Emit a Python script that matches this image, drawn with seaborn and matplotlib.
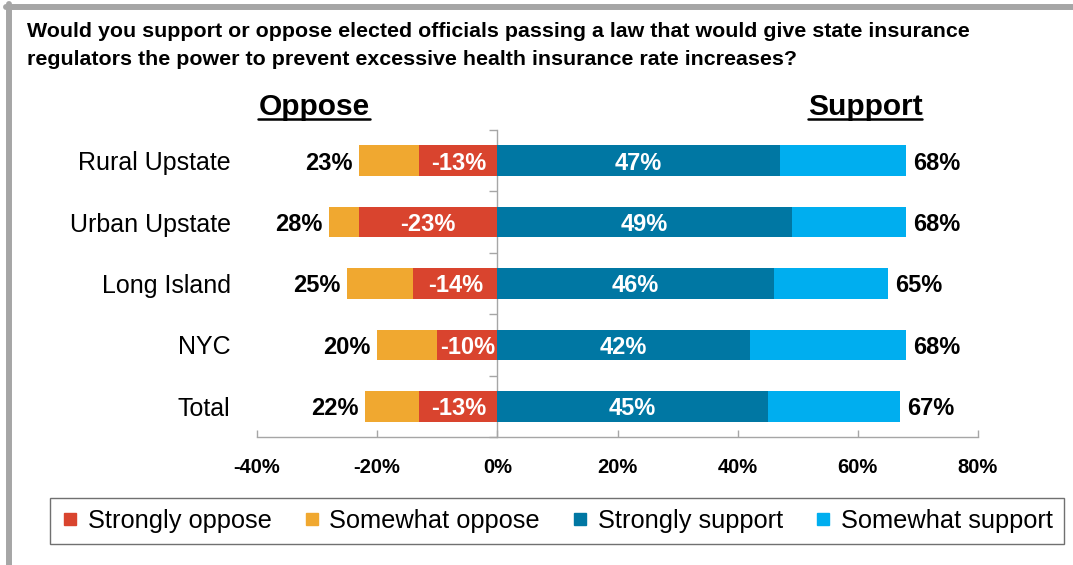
import matplotlib
matplotlib.use('Agg')
import matplotlib.pyplot as plt
import seaborn as sns
import pandas as pd
from matplotlib.lines import Line2D
from matplotlib.ticker import FuncFormatter, NullFormatter

# values
regions = ['Rural Upstate', 'Urban Upstate', 'Long Island', 'NYC', 'Total']
strongly_oppose = [13, 23, 14, 10, 13]
total_oppose = [23, 28, 25, 20, 22]
strongly_support = [47, 49, 46, 42, 45]
total_support = [68, 68, 65, 68, 67]
xticks = [-40, -20, 0, 20, 40, 60, 80]
legend_labels = ['Strongly oppose', 'Somewhat oppose', 'Strongly support', 'Somewhat support']

title = ('Would you support or oppose elected officials passing a law that would give state insurance\n'
         'regulators the power to prevent excessive health insurance rate increases?')

RED = '#D9442E'
ORANGE = '#F0A830'
DARK_BLUE = '#0077A3'
LIGHT_BLUE = '#00AEEF'
GRAY = '#A6A6A6'

df = pd.DataFrame({'region': regions,
                   'strongly_oppose': [-v for v in strongly_oppose],
                   'total_oppose': [-v for v in total_oppose],
                   'strongly_support': strongly_support,
                   'total_support': total_support})

sns.set_theme(style='white')
plt.rcParams['font.family'] = ['Liberation Sans', 'DejaVu Sans']

W, H = 1073, 565
fig = plt.figure(figsize=(W / 100, H / 100), dpi=100)
ax = fig.add_axes([257 / W, 1 - 437 / H, (978 - 257) / W, (437 - 130) / H])

LBL = 17


def add_labels(labels, color, **kw):
    # label the bars just drawn, centred on the bar's vertical middle
    anns = ax.bar_label(ax.containers[-1], labels=labels, fontsize=LBL, fontweight='bold',
                        color=color, **kw)
    for a in anns:
        a.set_va('center_baseline')


# oppose side: full oppose (orange) then strongly oppose (red) on top
sns.barplot(data=df, x='total_oppose', y='region', orient='y', color=ORANGE, saturation=1,
            width=0.5, linewidth=0, errorbar=None, ax=ax)
add_labels([f'{v}%' for v in total_oppose], 'black', padding=5)
sns.barplot(data=df, x='strongly_oppose', y='region', orient='y', color=RED, saturation=1,
            width=0.5, linewidth=0, errorbar=None, ax=ax)
add_labels([f'-{v}%' for v in strongly_oppose], 'white', label_type='center')

# support side
sns.barplot(data=df, x='total_support', y='region', orient='y', color=LIGHT_BLUE, saturation=1,
            width=0.5, linewidth=0, errorbar=None, ax=ax)
add_labels([f'{v}%' for v in total_support], 'black', padding=5)
sns.barplot(data=df, x='strongly_support', y='region', orient='y', color=DARK_BLUE, saturation=1,
            width=0.5, linewidth=0, errorbar=None, ax=ax)
add_labels([f'{v}%' for v in strongly_support], 'white', label_type='center')

ax.set_xlim(-40, 80)
ax.set_ylim(len(regions) - 0.5, -0.5)
ax.set_xticks(xticks)
ax.xaxis.set_major_formatter(FuncFormatter(lambda v, p: f'{int(v)}%'))
ax.set_xlabel('')
ax.set_ylabel('')
for s in ['top', 'right', 'left']:
    ax.spines[s].set_visible(False)
ax.spines['bottom'].set_color(GRAY)
ax.spines['bottom'].set_linewidth(1)
ax.tick_params(axis='x', direction='in', length=5, width=1, color=GRAY, pad=15,
               labelsize=14.5, labelcolor='black', bottom=True)
for lab in ax.get_xticklabels():
    lab.set_fontweight('bold')
ax.tick_params(axis='y', length=0, pad=19, labelsize=18, labelcolor='black')

# zero line with small ticks between categories
zero = ax.secondary_yaxis(40 / 120)
zero.spines['left'].set_color(GRAY)
zero.spines['left'].set_linewidth(1)
zero.set_yticks([i - 0.5 for i in range(len(regions) + 1)])
zero.yaxis.set_major_formatter(NullFormatter())
zero.tick_params(axis='y', direction='out', length=6, width=1, color=GRAY)

fig.text(27 / W, 1 - 22 / H, title, ha='left', va='top', fontsize=15.4, fontweight='bold',
         color='black', linespacing=1.6)

headers = []
for txt, xc in [('Oppose', 314), ('Support', 865)]:
    headers.append(fig.text(xc / W, 1 - 115 / H, txt, ha='center', va='baseline', fontsize=21.5,
                            fontweight='bold', color='black'))

handles = [Line2D([], [], marker='s', linestyle='none', markersize=9, color=c)
           for c in [RED, ORANGE, DARK_BLUE, LIGHT_BLUE]]
leg = fig.legend(handles, legend_labels, ncol=4, loc='center', bbox_to_anchor=(557 / W, 1 - 521 / H),
                 fontsize=18.3, frameon=True, fancybox=False, framealpha=1, edgecolor='#707070',
                 handlelength=0.7, handletextpad=0.35, columnspacing=1.22, borderpad=0.45)
leg.get_frame().set_linewidth(1)
for t in leg.get_texts():
    t.set_color('black')

# grey frame along top and left edges
fig.add_artist(Line2D([6 / W, 1], [1 - 7 / H, 1 - 7 / H], color=GRAY, linewidth=4.3,
                      transform=fig.transFigure))
fig.add_artist(Line2D([8.5 / W, 8.5 / W], [0, 1 - 4 / H], color=GRAY, linewidth=4.3,
                      transform=fig.transFigure))

# underline the two headers
fig.canvas.draw()
inv = fig.transFigure.inverted()
for t in headers:
    bb = t.get_window_extent()
    (x0, _), (x1, _) = inv.transform([(bb.x0, 0), (bb.x1, 0)])
    yl = 1 - 119 / H
    fig.add_artist(Line2D([x0, x1], [yl, yl], color='black', linewidth=1.8,
                          transform=fig.transFigure))

fig.savefig('out.png', dpi=100)
